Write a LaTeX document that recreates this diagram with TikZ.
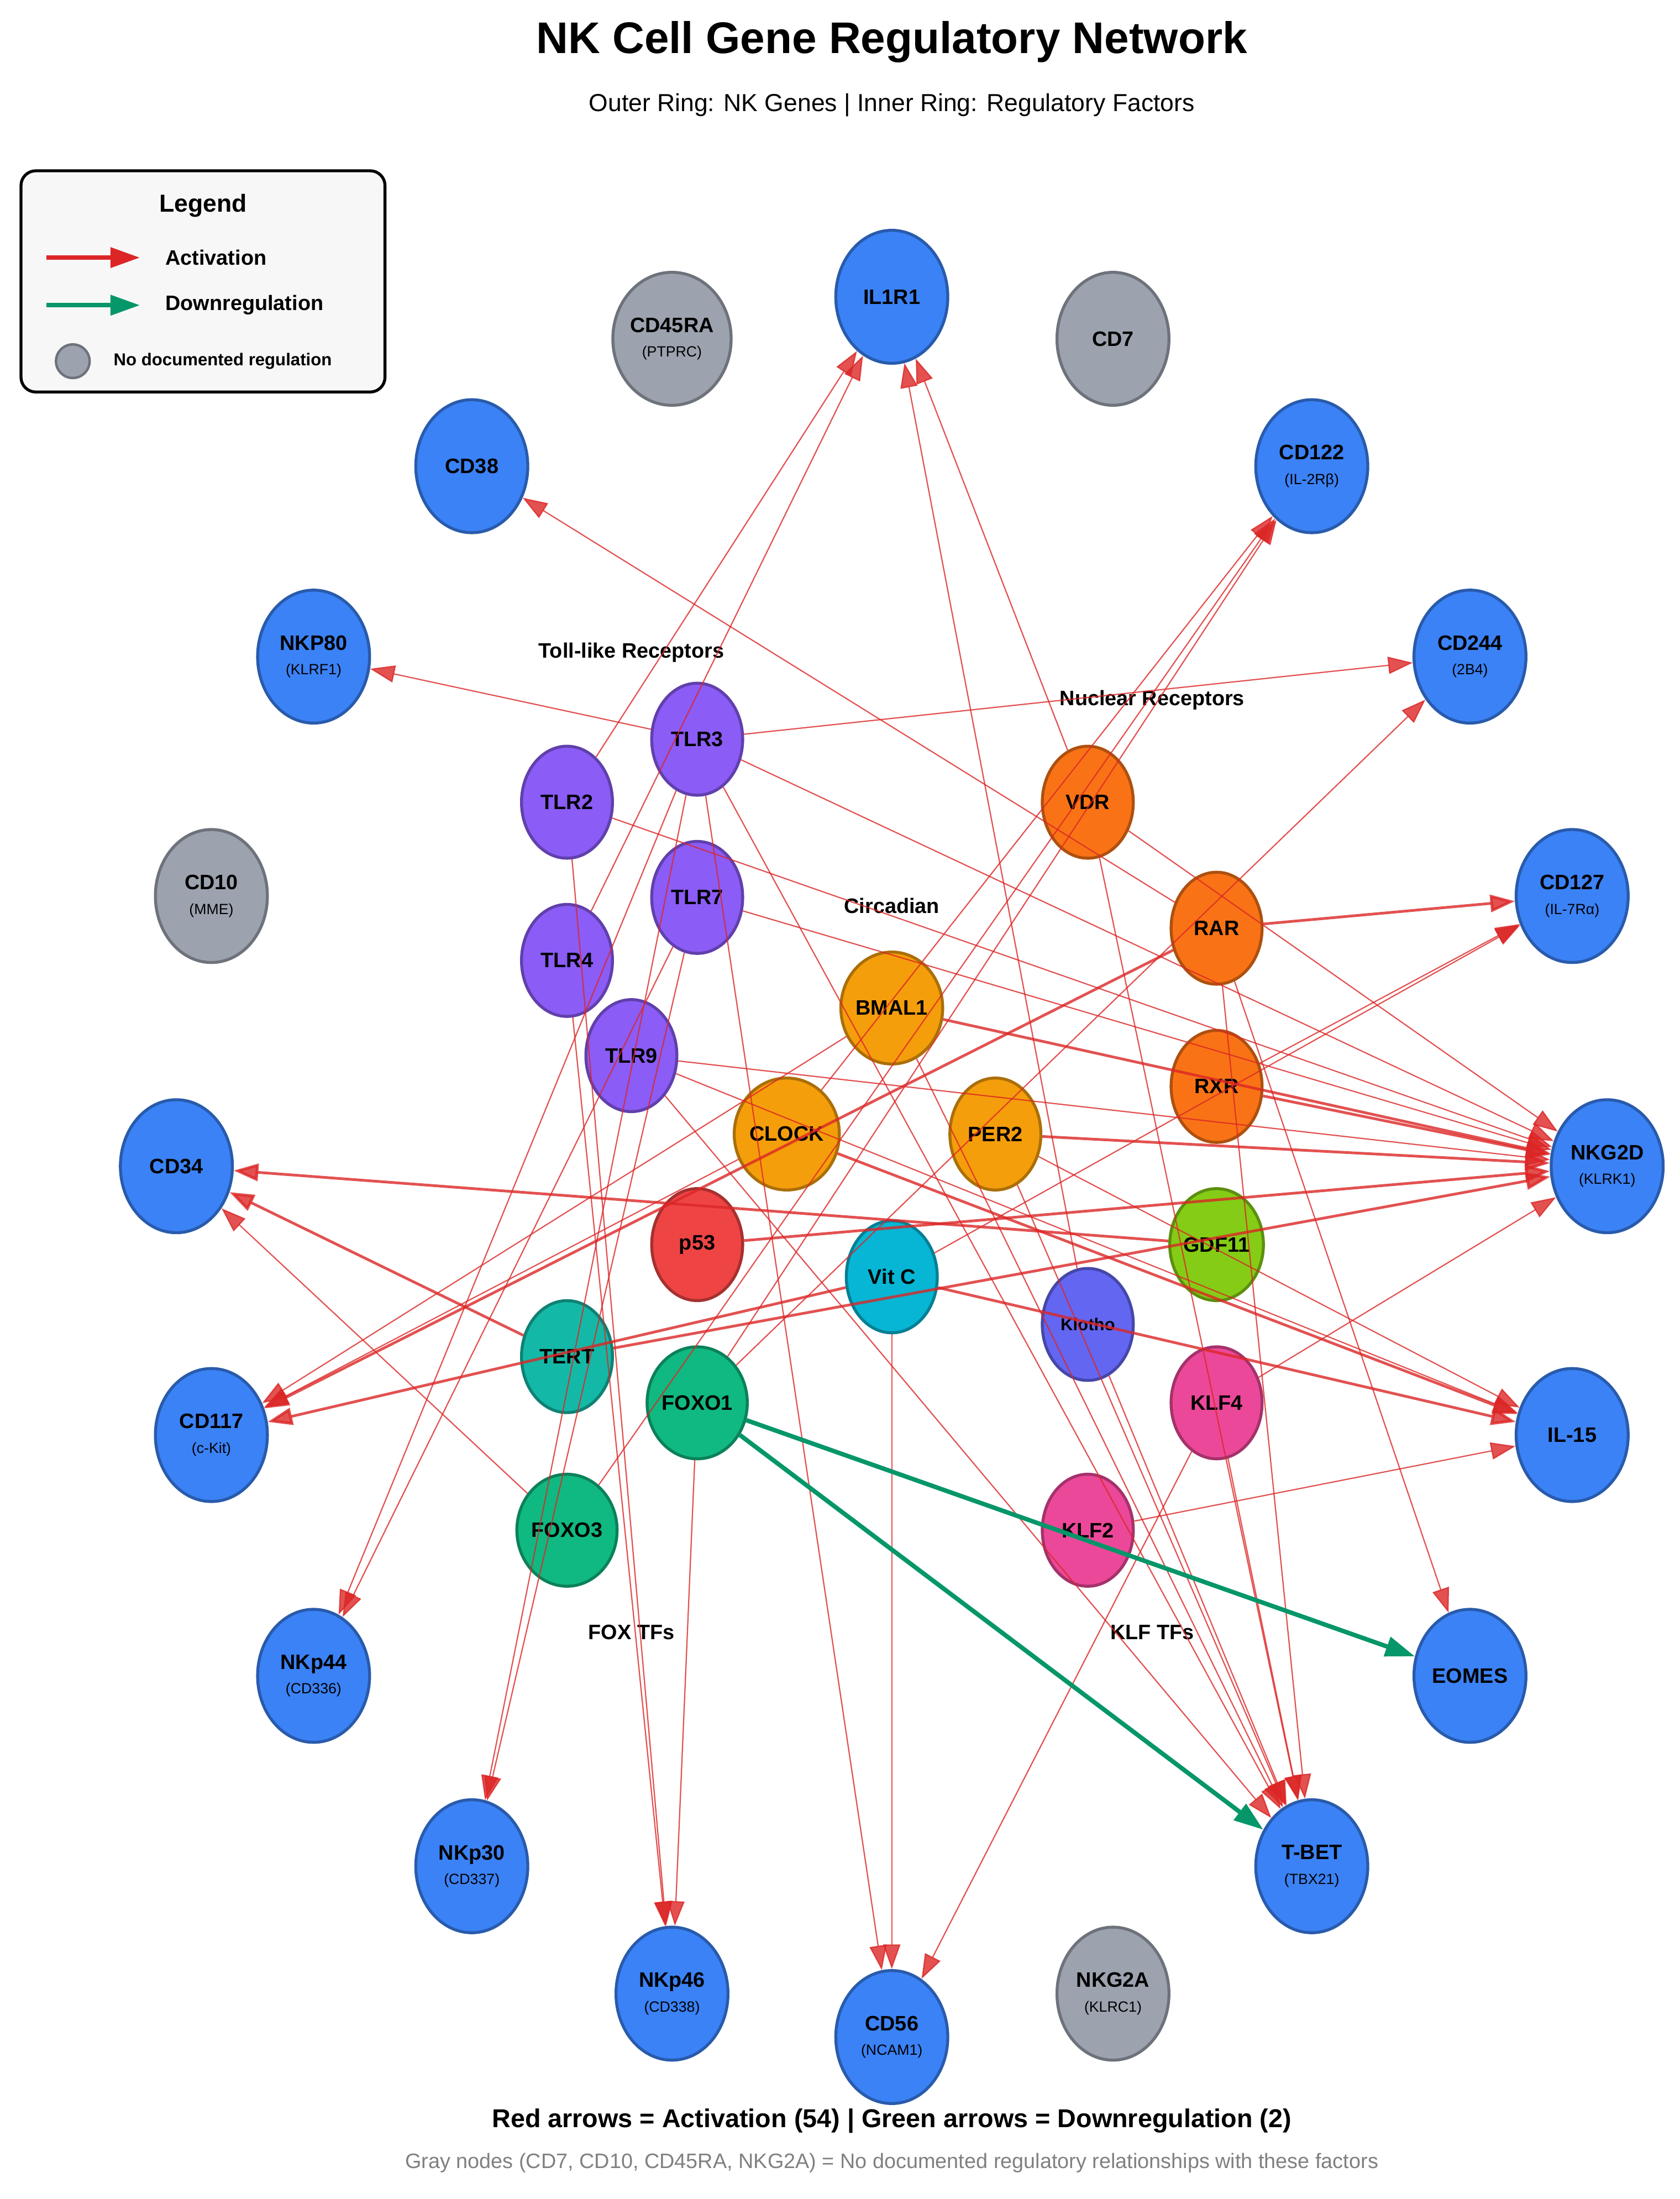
\documentclass[tikz,border=0pt]{standalone}
\usepackage{fontspec}
\setmainfont{Liberation Sans}
\usetikzlibrary{arrows.meta,shapes.geometric}
\definecolor{actred}{HTML}{DC2626}
\definecolor{downgreen}{HTML}{059669}
\tikzset{
  gene/.style={ellipse, draw=#1!70!black, fill=#1, line width=1.2pt, minimum width=1.6cm, minimum height=1.9cm, inner sep=0pt, align=center, font=\bfseries\fontsize{8.5}{9}\selectfont},
  fac/.style={ellipse, draw=#1!70!black, fill=#1, line width=1.2pt, minimum width=1.3cm, minimum height=1.6cm, inner sep=0pt, font=\bfseries\fontsize{8.5}{9}\selectfont},
  act/.style={draw=actred, opacity=0.8, line width=0.5pt, -{Triangle[length=10pt,width=7pt]}},
  actb/.style={act, line width=1.1pt},
  down/.style={draw=downgreen, line width=1.8pt, -{Triangle[length=12pt,width=8pt]}},
  grp/.style={font=\bfseries\fontsize{8.5}{9}\selectfont},
  sub/.style={font=\fontsize{6}{7}\selectfont},
}
\definecolor{blue}{HTML}{3B82F6}
\definecolor{grey}{HTML}{9CA3AF}
\definecolor{tlr}{HTML}{8B5CF6}
\definecolor{circ}{HTML}{F59E0B}
\definecolor{nucr}{HTML}{F97316}
\definecolor{pff}{HTML}{EF4444}
\definecolor{vitc}{HTML}{06B6D4}
\definecolor{klo}{HTML}{6366F1}
\definecolor{gdf}{HTML}{84CC16}
\definecolor{tert}{HTML}{14B8A6}
\definecolor{fox}{HTML}{10B981}
\definecolor{klf}{HTML}{EC4899}
\begin{document}
\begin{tikzpicture}[x=0.02cm,y=-0.02cm]
\useasboundingbox (0,0) rectangle (1200,1570.7);
\fill[white] (0,0) rectangle (1200,1570.7);
% titles
\node (title) at (637,30) {\bfseries\fontsize{18}{20}\selectfont NK Cell Gene Regulatory Network};
\node (subtitle) at (637,75) {\fontsize{10}{12}\selectfont Outer Ring: NK Genes | Inner Ring: Regulatory Factors};
% legend
\draw[line width=1.2pt, rounded corners=6pt, fill=gray!6] (15,122) rectangle (275,280);
\node (legtitle) at (145,147) {\bfseries\fontsize{10}{12}\selectfont Legend};
\coordinate (la1) at (33,184); \coordinate (la2) at (100,184);
\coordinate (lg1) at (33,218); \coordinate (lg2) at (100,218);
\draw[draw=actred, line width=1.8pt, -{Triangle[length=12pt,width=8pt]}] (la1) -- (la2);
\draw[down] (lg1) -- (lg2);
\node[circle, fill=grey, draw=grey!70!black, line width=1pt, minimum size=0.48cm] (legdot) at (52,258) {};
\node[anchor=west, grp] (l1) at (112,184) {Activation};
\node[anchor=west, grp] (l2) at (112,218) {Downregulation};
\node[anchor=west, grp, font=\bfseries\fontsize{7}{8}\selectfont] (l3) at (75,258) {No documented regulation};
% outer ring
\node[gene=blue] (IL1R1) at (637,212) {IL1R1};
\node[gene=grey] (CD7) at (795,242) {CD7};
\node[gene=blue] (CD122) at (937,333) {CD122\\[1pt]{\normalfont\fontsize{6}{7}\selectfont (IL-2Rβ)}};
\node[gene=blue] (CD244) at (1050,469) {CD244\\[1pt]{\normalfont\fontsize{6}{7}\selectfont (2B4)}};
\node[gene=blue] (CD127) at (1123,640) {CD127\\[1pt]{\normalfont\fontsize{6}{7}\selectfont (IL-7Rα)}};
\node[gene=blue] (NKG2D) at (1148,833) {NKG2D\\[1pt]{\normalfont\fontsize{6}{7}\selectfont (KLRK1)}};
\node[gene=blue] (IL15) at (1123,1025) {IL-15};
\node[gene=blue] (EOMES) at (1050,1197) {EOMES};
\node[gene=blue] (TBET) at (937,1333) {T-BET\\[1pt]{\normalfont\fontsize{6}{7}\selectfont (TBX21)}};
\node[gene=grey] (NKG2A) at (795,1424) {NKG2A\\[1pt]{\normalfont\fontsize{6}{7}\selectfont (KLRC1)}};
\node[gene=blue] (CD56) at (637,1455) {CD56\\[1pt]{\normalfont\fontsize{6}{7}\selectfont (NCAM1)}};
\node[gene=blue] (NKp46) at (480,1424) {NKp46\\[1pt]{\normalfont\fontsize{6}{7}\selectfont (CD338)}};
\node[gene=blue] (NKp30) at (337,1333) {NKp30\\[1pt]{\normalfont\fontsize{6}{7}\selectfont (CD337)}};
\node[gene=blue] (NKp44) at (224,1197) {NKp44\\[1pt]{\normalfont\fontsize{6}{7}\selectfont (CD336)}};
\node[gene=blue] (CD117) at (151,1025) {CD117\\[1pt]{\normalfont\fontsize{6}{7}\selectfont (c-Kit)}};
\node[gene=blue] (CD34) at (126,833) {CD34};
\node[gene=grey] (CD10) at (151,640) {CD10\\[1pt]{\normalfont\fontsize{6}{7}\selectfont (MME)}};
\node[gene=blue] (NKP80) at (224,469) {NKP80\\[1pt]{\normalfont\fontsize{6}{7}\selectfont (KLRF1)}};
\node[gene=blue] (CD38) at (337,333) {CD38};
\node[gene=grey] (CD45RA) at (480,242) {CD45RA\\[1pt]{\normalfont\fontsize{6}{7}\selectfont (PTPRC)}};
% inner ring
\node[fac=tlr] (TLR3) at (498,528) {TLR3};
\node[fac=tlr] (TLR2) at (405,573) {TLR2};
\node[fac=tlr] (TLR7) at (498,641) {TLR7};
\node[fac=tlr] (TLR4) at (405,686) {TLR4};
\node[fac=tlr] (TLR9) at (451,754) {TLR9};
\node[fac=circ] (BMAL1) at (637,720) {BMAL1};
\node[fac=circ] (CLOCK) at (562,810) {CLOCK};
\node[fac=circ] (PER2) at (711,810) {PER2};
\node[fac=pff] (p53) at (498,889) {p53};
\node[fac=vitc] (VitC) at (637,912) {Vit C};
\node[fac=klo, font=\bfseries\fontsize{7}{8}\selectfont] (Klotho) at (777,946) {Klotho};
\node[fac=gdf] (GDF11) at (869,889) {GDF11};
\node[fac=tert] (TERT) at (405,969) {TERT};
\node[fac=fox] (FOXO1) at (498,1002) {FOXO1};
\node[fac=fox] (FOXO3) at (405,1093) {FOXO3};
\node[fac=klf] (KLF2) at (777,1093) {KLF2};
\node[fac=klf] (KLF4) at (869,1002) {KLF4};
\node[fac=nucr] (VDR) at (777,573) {VDR};
\node[fac=nucr] (RAR) at (869,663) {RAR};
\node[fac=nucr] (RXR) at (869,776) {RXR};
% group labels
\node[grp] (gTLR) at (451,466) {Toll-like Receptors};
\node[grp] (gNR) at (823,500) {Nuclear Receptors};
\node[grp] (gCirc) at (637,647) {Circadian};
\node[grp] (gFOX) at (451,1166) {FOX TFs};
\node[grp] (gKLF) at (823,1166) {KLF TFs};
% activation edges
\draw[act] (TLR2) -- (IL1R1);
\draw[act] (TLR2) -- (NKG2D);
\draw[act] (TLR2) -- (NKp46);
\draw[act] (TLR3) -- (NKP80);
\draw[act] (TLR3) -- (CD244);
\draw[act] (TLR3) -- (NKG2D);
\draw[act] (TLR3) -- (NKp44);
\draw[act] (TLR3) -- (NKp30);
\draw[act] (TLR3) -- (CD56);
\draw[act] (TLR3) -- (TBET);
\draw[act] (TLR4) -- (IL1R1);
\draw[act] (TLR4) -- (NKp46);
\draw[act] (TLR7) -- (NKG2D);
\draw[act] (TLR7) -- (NKp44);
\draw[act] (TLR7) -- (NKp30);
\draw[act] (TLR9) -- (NKG2D);
\draw[act] (TLR9) -- (IL15);
\draw[act] (TLR9) -- (TBET);
\draw[actb] (BMAL1) -- (NKG2D);
\draw[act] (BMAL1) -- (TBET);
\draw[act] (BMAL1) -- (CD117);
\draw[actb] (CLOCK) -- (IL15);
\draw[act] (CLOCK) -- (CD117);
\draw[act] (CLOCK) -- (CD122);
\draw[actb] (PER2) -- (NKG2D);
\draw[act] (PER2) -- (TBET);
\draw[act] (PER2) -- (IL15);
\draw[actb] (p53) -- (NKG2D);
\draw[actb] (VitC) -- (IL15);
\draw[act] (VitC) -- (CD56);
\draw[act] (VitC) -- (CD127);
\draw[actb] (VitC) -- (CD117);
\draw[act] (Klotho) -- (IL1R1);
\draw[act] (Klotho) -- (TBET);
\draw[actb] (GDF11) -- (CD34);
\draw[actb] (TERT) -- (CD34);
\draw[actb] (TERT) -- (NKG2D);
\draw[act] (FOXO3) -- (CD34);
\draw[act] (FOXO3) -- (CD122);
\draw[act] (FOXO1) -- (NKp46);
\draw[act] (FOXO1) -- (CD122);
\draw[act] (FOXO1) -- (CD244);
\draw[act] (KLF2) -- (IL15);
\draw[act] (KLF4) -- (NKG2D);
\draw[act] (KLF4) -- (CD56);
\draw[act] (KLF4) -- (TBET);
\draw[act] (VDR) -- (IL1R1);
\draw[act] (VDR) -- (TBET);
\draw[act] (VDR) -- (NKG2D);
\draw[act] (RAR) -- (CD38);
\draw[actb] (RAR) -- (CD127);
\draw[act] (RAR) -- (EOMES);
\draw[act] (RAR) -- (TBET);
\draw[actb] (RAR) -- (CD117);
\draw[actb] (RXR) -- (NKG2D);
\draw[act] (RXR) -- (CD127);
% downregulation edges
\draw[down] (FOXO1) -- (EOMES);
\draw[down] (FOXO1) -- (TBET);
% footer
\node (foot1) at (637,1515) {\bfseries\fontsize{10.5}{12}\selectfont Red arrows = Activation (54) | Green arrows = Downregulation (2)};
\node[text=gray] (foot2) at (637,1545) {\fontsize{8.5}{10}\selectfont Gray nodes (CD7, CD10, CD45RA, NKG2A) = No documented regulatory relationships with these factors};
\end{tikzpicture}
\end{document}
